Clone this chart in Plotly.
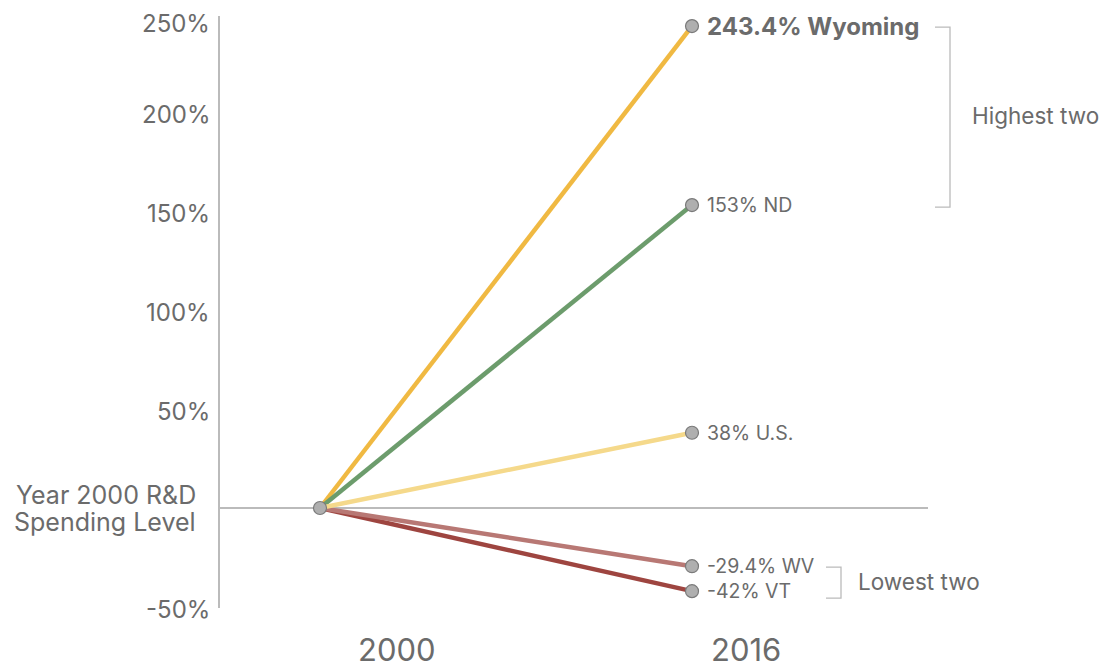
import plotly.graph_objects as go

# ---- data ----
years = ["2000", "2016"]
series_names = ["VT", "WV", "Wyoming", "ND", "U.S."]
start_values = [0, 0, 0, 0, 0]
end_values = [-42, -29.4, 243.4, 153, 38]
end_labels = ["-42% VT", "-29.4% WV", "<b>243.4% Wyoming</b>", "153% ND", "38% U.S."]
colors = ["#9E4540", "#B87874", "#F0B942", "#6C9C6C", "#F5D98B"]
ytick_vals = [-50, 50, 100, 150, 200, 250]
ytick_text = ["-50%", "50%", "100%", "150%", "200%", "250%"]
zero_label_lines = ["Year 2000 R&D", "Spending Level"]
group_labels = ["Highest two", "Lowest two"]

TXT = "#6b6b6b"
FONT = "Inter, Lato, sans-serif"

# geometry (figure pixels; page has an 8px body margin)
W, H = 1110, 659
ML = 210
X0PIX, XSCALE = 312, 372      # data x=0 -> pixel, pixels per unit
Y0PIX, YSCALE = 500, 1.98     # data y=0 -> pixel, pixels per percent

fig = go.Figure()
for name, s, e, c in zip(series_names, start_values, end_values, colors):
    fig.add_trace(go.Scatter(x=[0, 1], y=[s, e], mode="lines", name=name,
                             line=dict(color=c, width=4.5), hoverinfo="skip"))

# markers
fig.add_trace(go.Scatter(x=[0] + [1] * len(end_values), y=[0] + end_values,
                         mode="markers",
                         marker=dict(size=13, color="#AFAFAF", line=dict(color="#7a7a7a", width=1.2)),
                         hoverinfo="skip", showlegend=False))

# end labels
for e, lab in zip(end_values, end_labels):
    bold = lab.startswith("<b>")
    fig.add_annotation(x=1, y=e, text=lab, showarrow=False, xanchor="left", yanchor="middle",
                       xshift=13, font=dict(family=FONT, size=24 if bold else 19.5, color=TXT))

# year labels
for xv, t in zip([0.207, 1.145], years):
    fig.add_annotation(x=xv, y=-71.7, text=t, showarrow=False, xanchor="center", yanchor="middle",
                       font=dict(family=FONT, size=31, color=TXT))

# y tick labels
for v, t in zip(ytick_vals, ytick_text):
    fig.add_annotation(xref="paper", x=0, y=v, text=t, showarrow=False, xanchor="right",
                       yanchor="middle", xshift=-6, yshift=-10 if v == max(ytick_vals) else -2,
                       font=dict(family=FONT, size=24, color=TXT))

# axis lines
xl = (211 - X0PIX) / XSCALE
fig.add_shape(type="line", x0=xl, x1=xl, y0=-50.5, y1=248.5,
              line=dict(color="#BBBBBB", width=2), layer="below")
fig.add_shape(type="line", x0=xl, x1=(920 - X0PIX) / XSCALE, y0=0, y1=0,
              line=dict(color="#BBBBBB", width=2), layer="below")

# zero label (two lines)
for i, line_txt in enumerate(zero_label_lines):
    fig.add_annotation(xref="paper", x=0, y=0, text=line_txt, showarrow=False,
                       xanchor="right", yanchor="middle", xshift=-20, yshift=13 - 27 * i,
                       font=dict(family=FONT, size=25, color=TXT))

# brackets
bx_hi = (950 - 320) / 372
bx_hi0 = (935 - 320) / 372
fig.add_shape(type="path",
              path=f"M {bx_hi0} {end_values[2]-0.5} L {bx_hi} {end_values[2]-0.5} L {bx_hi} {end_values[3]-1} L {bx_hi0} {end_values[3]-1}",
              line=dict(color="#BBBBBB", width=1.3))
fig.add_annotation(x=(970 - 320) / 372, y=(end_values[2] + end_values[3]) / 2, text=group_labels[0],
                   showarrow=False, xanchor="left", yanchor="middle",
                   font=dict(family=FONT, size=22.5, color=TXT))
bx_lo = (841 - 320) / 372
bx_lo0 = (826 - 320) / 372
fig.add_shape(type="path",
              path=f"M {bx_lo0} {end_values[1]-0.5} L {bx_lo} {end_values[1]-0.5} L {bx_lo} {end_values[0]-3.5} L {bx_lo0} {end_values[0]-3.5}",
              line=dict(color="#BBBBBB", width=1.3))
fig.add_annotation(x=(856 - 320) / 372, y=(end_values[0] + end_values[1]) / 2 - 1.5, text=group_labels[1],
                   showarrow=False, xanchor="left", yanchor="middle",
                   font=dict(family=FONT, size=22.5, color=TXT))

fig.update_layout(
    width=W, height=H,
    margin=dict(l=ML, r=0, t=0, b=0),
    paper_bgcolor="white", plot_bgcolor="white",
    showlegend=False,
    xaxis=dict(range=[(ML - X0PIX) / XSCALE, (W - X0PIX) / XSCALE], showgrid=False, zeroline=False,
               showline=False, showticklabels=False, fixedrange=True),
    yaxis=dict(range=[(Y0PIX - H) / YSCALE, Y0PIX / YSCALE], showgrid=False, zeroline=False,
               showline=False, showticklabels=False, fixedrange=True),
)

fig.write_html("out.html")
